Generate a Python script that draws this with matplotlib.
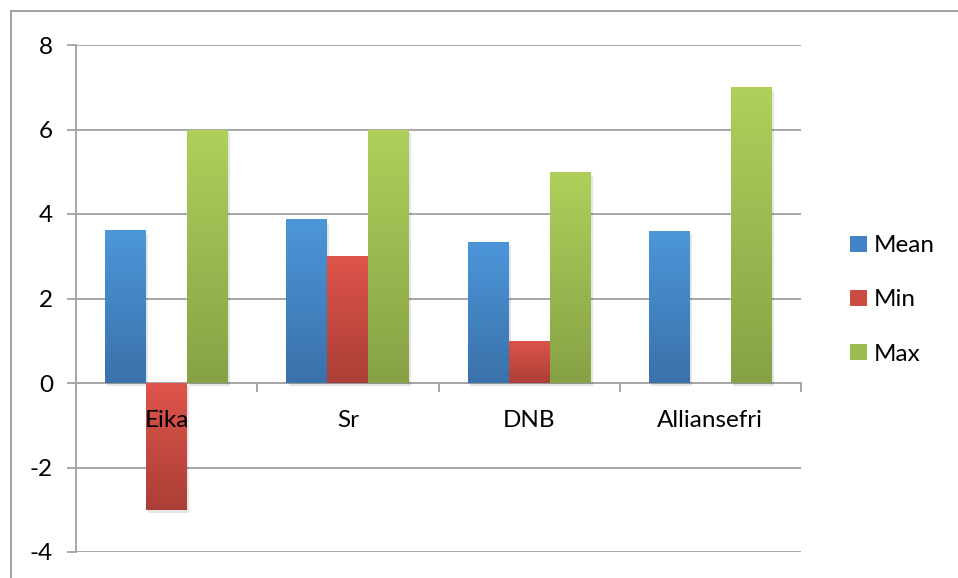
import numpy as np
import matplotlib
matplotlib.use('Agg')
import matplotlib.pyplot as plt
import matplotlib.patheffects as pe
from matplotlib.colors import LinearSegmentedColormap
from matplotlib.lines import Line2D
from matplotlib.patches import Patch

plt.rcParams['font.family'] = ['Lato', 'DejaVu Sans']

# data
categories = ['Eika', 'Sr', 'DNB', 'Alliansefri']
series_names = ['Mean', 'Min', 'Max']
mean_vals = [3.62, 3.88, 3.34, 3.6]
min_vals = [-3, 3, 1, 0]
max_vals = [6, 6, 5, 7]
y_ticks = [-4, -2, 0, 2, 4, 6, 8]

# (top colour, bottom colour) per series
grads = [('#4c96da', '#3a71aa'), ('#de544a', '#ab3f37'), ('#aed05b', '#87a246')]
solid = ['#4284c9', '#cc4a41', '#9cbb51']

W, H = 958, 578
FS = 17.5
fig = plt.figure(figsize=(W / 100, H / 100), dpi=100)
ax = fig.add_axes([76 / W, 1 - 552 / H, (801 - 76) / W, (552 - 45) / H])

grid_col = '#a6a6a6'
x = np.arange(len(categories))
bw = 0.226
all_vals = [mean_vals, min_vals, max_vals]

for i, vals in enumerate(all_vals):
    cmap = LinearSegmentedColormap.from_list('g%d' % i, [grads[i][0], grads[i][1]])
    bars = ax.bar(x + (i - 1) * bw, vals, width=bw, color=solid[i], zorder=3,
                  linewidth=0)
    for b in bars:
        h = b.get_height()
        if h == 0:
            b.set_visible(False)
            continue
        b.set_path_effects([pe.SimplePatchShadow(offset=(1.5, -2.5), shadow_rgbFace='#000000',
                                                 alpha=0.1), pe.Normal()])
        x0 = b.get_x()
        y0, y1 = sorted([b.get_y(), b.get_y() + h])
        grad = np.linspace(0, 1, 64).reshape(-1, 1)
        im = ax.imshow(grad, cmap=cmap, extent=(x0, x0 + bw, y0, y1), origin='upper',
                       aspect='auto', zorder=4, interpolation='bilinear')
        im.set_clip_path(b)

ax.set_xlim(-0.5, len(categories) - 0.5)
ax.set_ylim(-4, 8)
ax.set_yticks(y_ticks)
ax.set_yticklabels([str(v) for v in y_ticks], fontsize=FS)
ax.yaxis.grid(True, color=grid_col, linewidth=1.4, zorder=0)
ax.set_axisbelow(True)

for s in ['top', 'right']:
    ax.spines[s].set_visible(False)
ax.spines['left'].set_color(grid_col)
ax.spines['left'].set_linewidth(1.4)
ax.spines['bottom'].set_position(('data', 0))
ax.spines['bottom'].set_color(grid_col)
ax.spines['bottom'].set_linewidth(1.4)
ax.spines['bottom'].set_zorder(2)

ax.tick_params(axis='y', length=6.5, width=1.4, color=grid_col, pad=10, labelcolor='black')
ax.set_xticks(x)
ax.set_xticklabels([])
ax.tick_params(axis='x', which='major', length=0)
ax.set_xticks(np.arange(len(categories) + 1) - 0.5, minor=True)
ax.tick_params(axis='x', which='minor', length=6.5, width=1.4, color=grid_col, direction='out')

for xi, name in zip(x, categories):
    ax.text(xi, -0.88, name, ha='center', va='center', fontsize=FS, zorder=6)

handles = [Patch(facecolor=c, edgecolor='none') for c in solid]
fig.legend(handles, series_names, loc='center left', bbox_to_anchor=(850 / W, 1 - 300 / H),
           frameon=False, fontsize=FS, handlelength=0.68, handleheight=0.68,
           handletextpad=0.3, labelspacing=1.36, borderpad=0, borderaxespad=0)

# outer chart-area border
fig.add_artist(Line2D([11 / W, 11 / W], [0, 1 - 11 / H], transform=fig.transFigure,
                      color='#9a9a9a', linewidth=1.3))
fig.add_artist(Line2D([11 / W, 1], [1 - 11 / H, 1 - 11 / H], transform=fig.transFigure,
                      color='#9a9a9a', linewidth=1.3))

fig.savefig('out.png', dpi=100)
